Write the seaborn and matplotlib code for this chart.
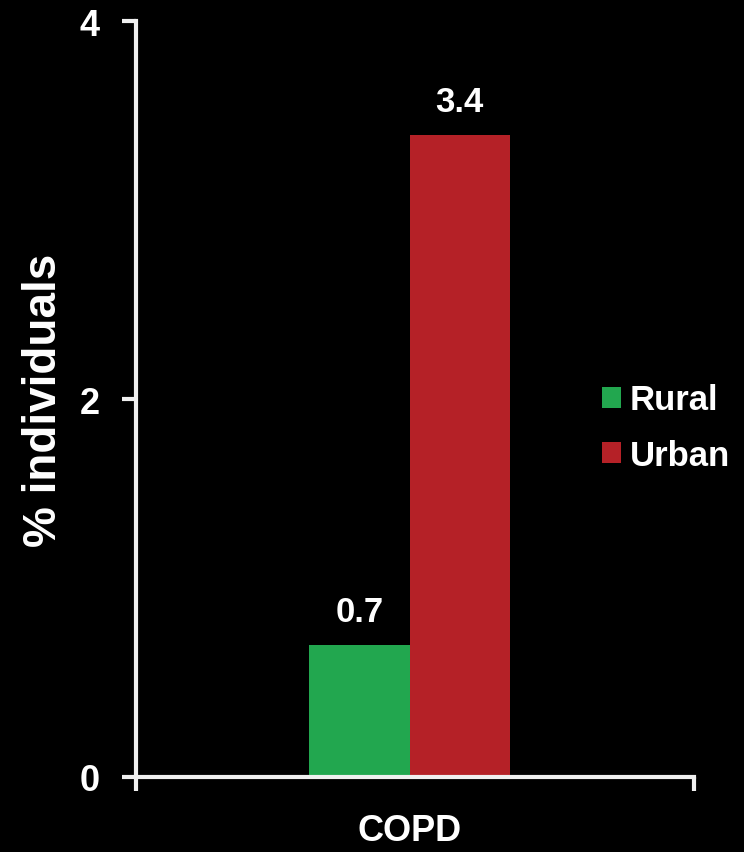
import pandas as pd
import matplotlib
matplotlib.use("Agg")
import matplotlib.pyplot as plt
import seaborn as sns

# data
categories = ["COPD", "COPD"]
groups = ["Rural", "Urban"]
values = [0.7, 3.4]
colors = ["#22A74F", "#B52127"]

df = pd.DataFrame({"disease": categories, "area": groups, "pct": values})

sns.set_style("dark")
plt.rcParams['font.family'] = ['Liberation Sans', 'DejaVu Sans']
plt.rcParams['font.weight'] = 'bold'

fig = plt.figure(figsize=(7.44, 8.53), dpi=100, facecolor="black")
ax = fig.add_axes([0.183, 0.088, 0.750, 0.886])
ax.set_facecolor("black")

sns.barplot(data=df, x="disease", y="pct", hue="area", palette=colors,
            width=0.36, saturation=1, edgecolor="none", linewidth=0, ax=ax)

for c in ax.containers:
    ax.bar_label(c, fmt="%.1f", padding=12, color="white", fontsize=25,
                 fontweight="bold")

ax.set_xlim(-0.49, 0.51)
ax.set_ylim(0, 4)
ax.set_yticks([0, 2, 4])
ax.set_xticks([-0.49, 0.51], minor=True)
ax.tick_params(axis="x", which="minor", bottom=True, length=10, width=3,
               color="#f0f0f0", direction="out")
ax.tick_params(axis="x", which="major", bottom=False, length=0, labelsize=26,
               labelcolor="white", pad=26)
ax.tick_params(axis="y", length=10, width=3, color="#f0f0f0", labelsize=26,
               labelcolor="white", pad=16, left=True)
ax.grid(False)
for s in ["top", "right"]:
    ax.spines[s].set_visible(False)
for s in ["left", "bottom"]:
    ax.spines[s].set_visible(True)
    ax.spines[s].set_color("#f0f0f0")
    ax.spines[s].set_linewidth(3)

ax.set_xlabel("")
ax.set_ylabel("% individuals", color="white", fontsize=33, fontweight="bold", labelpad=10)

ax.legend(loc="center left", bbox_to_anchor=(0.81, 0.462), frameon=False,
          fontsize=25, labelcolor="white", handlelength=0.55, handleheight=0.55,
          handletextpad=0.25, labelspacing=0.65, borderaxespad=0)

fig.savefig("out.png", dpi=100, facecolor="black")
